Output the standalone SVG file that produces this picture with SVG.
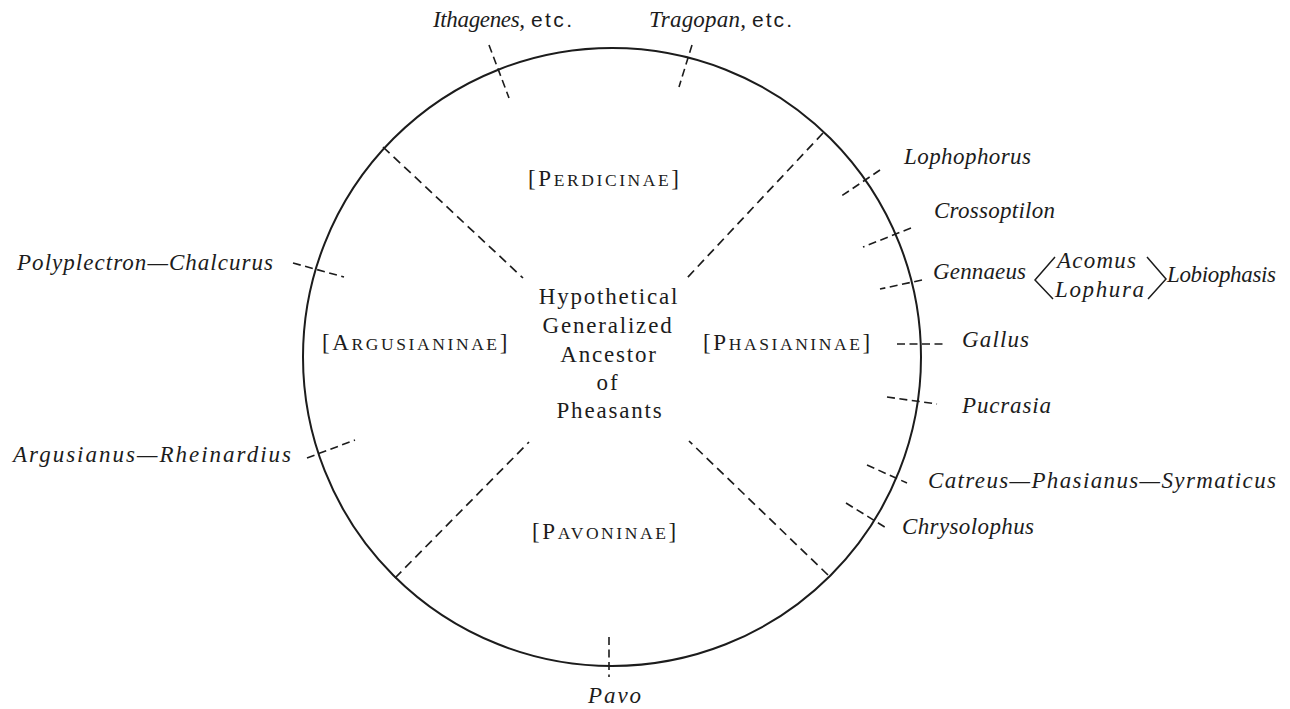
<svg xmlns="http://www.w3.org/2000/svg" width="1290" height="709" viewBox="0 0 1290 709">
<style>
  .bg { fill:#ffffff; }
  .circ { fill:none; stroke:#1c1c1c; stroke-width:2; }
  .div { fill:none; stroke:#1c1c1c; stroke-width:1.7; stroke-dasharray:9 5.5; }
  .tick { fill:none; stroke:#1c1c1c; stroke-width:1.6; stroke-dasharray:8 4.5; }
  .brk { fill:none; stroke:#1c1c1c; stroke-width:1.5; stroke-linejoin:miter; }
  .it { font-family:"Liberation Serif", serif; font-style:italic; font-size:23px; fill:#1c1c1c; }
  .sans { font-family:"Liberation Sans", sans-serif; font-size:21px; fill:#1c1c1c; }
  .sc { font-family:"Liberation Serif", serif; font-size:23px; letter-spacing:2.6px; fill:#1c1c1c; }
  .sm { font-size:17.5px; }
  .ctr { font-family:"Liberation Serif", serif; font-size:23px; letter-spacing:1.8px; text-anchor:middle; fill:#1c1c1c; }
</style>
<rect class="bg" x="0" y="0" width="1290" height="709"/>

<g id="ancestor">
  <circle class="circ" cx="612" cy="357" r="309"/>
  <text class="ctr" x="609" y="304">Hypothetical</text>
  <text class="ctr" x="608" y="333">Generalized</text>
  <text class="ctr" x="609" y="362">Ancestor</text>
  <text class="ctr" x="608" y="390">of</text>
  <text class="ctr" x="610" y="418">Pheasants</text>
</g>

<g id="connectors">
  <line class="div" x1="383" y1="147" x2="523" y2="278"/>
  <line class="div" x1="823" y1="133" x2="687" y2="278"/>
  <line class="div" x1="395" y1="578" x2="529" y2="442"/>
  <line class="div" x1="828" y1="575" x2="689" y2="441"/>

  <line class="tick" x1="489" y1="45" x2="509" y2="98"/>
  <line class="tick" x1="692" y1="45" x2="679" y2="87"/>
  <line class="tick" x1="880" y1="170" x2="840" y2="197"/>
  <line class="tick" x1="911" y1="228" x2="863" y2="247"/>
  <line class="tick" x1="922" y1="280" x2="880" y2="289"/>
  <line class="tick" x1="897" y1="344" x2="946" y2="344"/>
  <line class="tick" x1="887" y1="397" x2="937" y2="404"/>
  <line class="tick" x1="867" y1="465" x2="907" y2="483"/>
  <line class="tick" x1="846" y1="503" x2="888" y2="529"/>
  <line class="tick" x1="293" y1="263" x2="344" y2="277"/>
  <line class="tick" x1="307" y1="458" x2="355" y2="440"/>
  <line class="tick" x1="609" y1="637" x2="609" y2="677"/>

  <polyline class="brk" points="1055,257 1035,280 1053,299"/>
  <polyline class="brk" points="1147,257 1166,279 1148,299"/>
</g>

<g id="perdicinae">
  <text class="sc" x="528" y="186">[P<tspan class="sm">ERDICINAE</tspan>]</text>
</g>
<g id="argusianinae">
  <text class="sc" x="322" y="350">[A<tspan class="sm">RGUSIANINAE</tspan>]</text>
</g>
<g id="phasianinae">
  <text class="sc" x="703" y="350">[P<tspan class="sm">HASIANINAE</tspan>]</text>
</g>
<g id="pavoninae">
  <text class="sc" x="532" y="539">[P<tspan class="sm">AVONINAE</tspan>]</text>
</g>

<g id="ithagenes">
  <text class="it" x="433" y="27" textLength="92" lengthAdjust="spacing">Ithagenes,</text>
  <text class="sans" x="531" y="27" textLength="41" lengthAdjust="spacing">etc.</text>
</g>
<g id="tragopan">
  <text class="it" x="649" y="27" textLength="97" lengthAdjust="spacing">Tragopan,</text>
  <text class="sans" x="752" y="27" textLength="40" lengthAdjust="spacing">etc.</text>
</g>
<g id="lophophorus">
  <text class="it" x="904" y="164" textLength="127" lengthAdjust="spacing">Lophophorus</text>
</g>
<g id="crossoptilon">
  <text class="it" x="934" y="218" textLength="121" lengthAdjust="spacing">Crossoptilon</text>
</g>
<g id="gennaeus">
  <text class="it" x="933" y="279" textLength="93" lengthAdjust="spacing">Gennaeus</text>
</g>
<g id="acomus">
  <text class="it" x="1057" y="268" textLength="79" lengthAdjust="spacing">Acomus</text>
</g>
<g id="lophura">
  <text class="it" x="1055" y="297" textLength="89" lengthAdjust="spacing">Lophura</text>
</g>
<g id="lobiophasis">
  <text class="it" x="1167" y="282" textLength="109" lengthAdjust="spacing">Lobiophasis</text>
</g>
<g id="gallus">
  <text class="it" x="962" y="347" textLength="67" lengthAdjust="spacing">Gallus</text>
</g>
<g id="pucrasia">
  <text class="it" x="962" y="413" textLength="89" lengthAdjust="spacing">Pucrasia</text>
</g>
<g id="catreus">
  <text class="it" x="928" y="488" textLength="348" lengthAdjust="spacing">Catreus—Phasianus—Syrmaticus</text>
</g>
<g id="chrysolophus">
  <text class="it" x="902" y="534" textLength="132" lengthAdjust="spacing">Chrysolophus</text>
</g>
<g id="polyplectron">
  <text class="it" x="17" y="270" textLength="256" lengthAdjust="spacing">Polyplectron—Chalcurus</text>
</g>
<g id="argusianus">
  <text class="it" x="13" y="462" textLength="278" lengthAdjust="spacing">Argusianus—Rheinardius</text>
</g>
<g id="pavo">
  <text class="it" x="588" y="703" textLength="53" lengthAdjust="spacing">Pavo</text>
</g>
</svg>
